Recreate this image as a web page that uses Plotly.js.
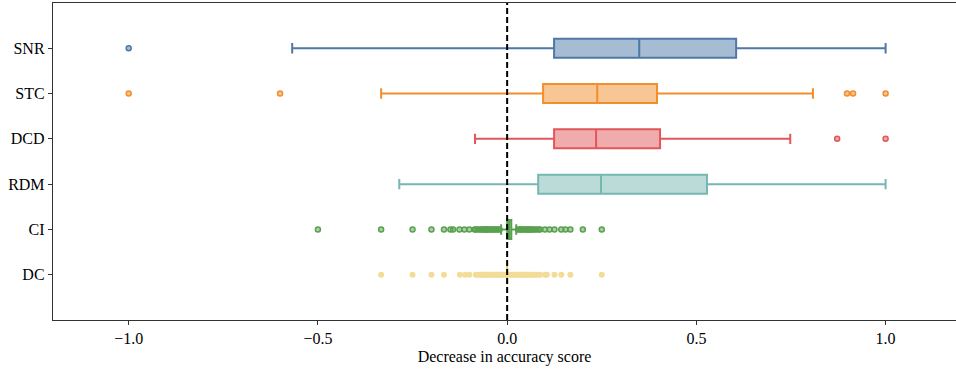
<!DOCTYPE html>
<html>
<head>
<meta charset="utf-8">
<script src="https://cdn.plot.ly/plotly-3.0.1.min.js"></script>
<style>html,body{margin:0;padding:0;background:#fff;overflow:hidden}#chart{width:956px;height:370px}</style>
</head>
<body>
<div id="chart"></div>
<script>
var categories = ['SNR', 'STC', 'DCD', 'RDM', 'CI', 'DC'];
var positions = [0, 1, 2, 3, 4, 5];
var q1 = [0.124, 0.095, 0.124, 0.082, 0.0, 0.0];
var medians = [0.349, 0.238, 0.235, 0.248, 0.005, 0.0];
var q3 = [0.605, 0.396, 0.404, 0.528, 0.011, 0.0];
var lowerWhisker = [-0.568, -0.333, -0.085, -0.285, -0.016, 0.0];
var upperWhisker = [1.0, 0.808, 0.748, 1.0, 0.024, 0.0];
var lineColors = ['#4e79a7', '#f28e2b', '#e15759', '#76b7b2', '#59a14f', '#edc948'];
var fillColors = ['rgba(78,121,167,0.5)', 'rgba(242,142,43,0.5)', 'rgba(225,87,89,0.5)', 'rgba(118,183,178,0.5)', 'rgba(89,161,79,0.5)', 'rgba(237,201,72,0.5)'];

var outSNR = [-1.0];
var outSTC = [-1.0, -0.6, 0.898, 0.914, 1.0];
var outDCD = [0.872, 1.0];
var outRDM = [];
var outCI = [-0.5, -0.333, -0.25, -0.2, -0.167, -0.15, -0.143, -0.126, -0.113, -0.1, -0.086, -0.083, -0.077, -0.071, -0.067, -0.063, -0.059, -0.056, -0.053, -0.05, -0.045, -0.042, -0.038, -0.033, -0.029, -0.025, -0.02,
  0.029, 0.033, 0.037, 0.04, 0.045, 0.05, 0.053, 0.056, 0.059, 0.063, 0.067, 0.071, 0.077, 0.083, 0.087, 0.1, 0.112, 0.125, 0.143, 0.154, 0.167, 0.2, 0.25];
var outDC = [-0.333, -0.25, -0.2, -0.167, -0.125, -0.111, -0.1, -0.083, -0.077, -0.071, -0.067, -0.063, -0.059, -0.056, -0.053, -0.05, -0.045, -0.042, -0.038, -0.033, -0.029, -0.025, -0.02, -0.017, -0.013, -0.01, -0.005,
  0.005, 0.01, 0.013, 0.017, 0.02, 0.025, 0.029, 0.033, 0.038, 0.042, 0.045, 0.05, 0.053, 0.056, 0.059, 0.063, 0.067, 0.071, 0.077, 0.083, 0.087, 0.1, 0.105, 0.125, 0.143, 0.167, 0.25];
var outliers = [outSNR, outSTC, outDCD, outRDM, outCI, outDC];

var traces = [];
for (var i = 0; i < categories.length; i++) {
  traces.push({
    type: 'box', orientation: 'h', name: categories[i],
    y: [positions[i]], q1: [q1[i]], median: [medians[i]], q3: [q3[i]],
    lowerfence: [lowerWhisker[i]], upperfence: [upperWhisker[i]],
    boxpoints: false, width: 0.42, whiskerwidth: 0.55,
    line: {color: lineColors[i], width: 2}, fillcolor: fillColors[i],
    hoverinfo: 'skip', showlegend: false
  });
}
for (var j = 0; j < categories.length; j++) {
  if (!outliers[j].length) continue;
  var ys = outliers[j].map(function(){ return positions[j]; });
  var isDC = categories[j] === 'DC';
  traces.push({
    type: 'scatter', mode: 'markers', x: outliers[j], y: ys, showlegend: false, hoverinfo: 'skip',
    marker: {size: isDC ? 6 : 5, color: isDC ? '#f3dc97' : fillColors[j],
             line: {color: isDC ? '#f3dc97' : lineColors[j], width: isDC ? 0 : 1.5}}
  });
}

var layout = {
  width: 956, height: 370,
  margin: {l: 53, r: 0, t: 3, b: 50},
  paper_bgcolor: '#fff', plot_bgcolor: '#fff',
  font: {family: 'Liberation Serif, DejaVu Serif, serif', color: '#000', size: 16},
  showlegend: false,
  xaxis: {
    range: [-1.2, 1.186], tickvals: [-1.0, -0.5, 0.0, 0.5, 1.0],
    ticktext: ['\u22121.0', '\u22120.5', '0.0', '0.5', '1.0'],
    showgrid: false, zeroline: false, showline: true, linecolor: '#333', linewidth: 1.2,
    mirror: true, ticks: 'outside', ticklen: 4, tickcolor: '#333',
    title: {text: 'Decrease in accuracy score', font: {size: 16}, standoff: 4}
  },
  yaxis: {
    range: [6, -1], tickvals: positions, ticktext: categories,
    showgrid: false, zeroline: false, showline: true, linecolor: '#333', linewidth: 1.2,
    mirror: false, ticks: 'outside', ticklen: 4, tickcolor: '#333'
  },
  shapes: [{type: 'line', xref: 'x', yref: 'paper', x0: 0, x1: 0, y0: 0, y1: 1,
            line: {color: '#000', width: 2, dash: '6px,3px'}, layer: 'above'}]
};
Plotly.newPlot('chart', traces, layout, {staticPlot: true, displayModeBar: false});
</script>
</body>
</html>
